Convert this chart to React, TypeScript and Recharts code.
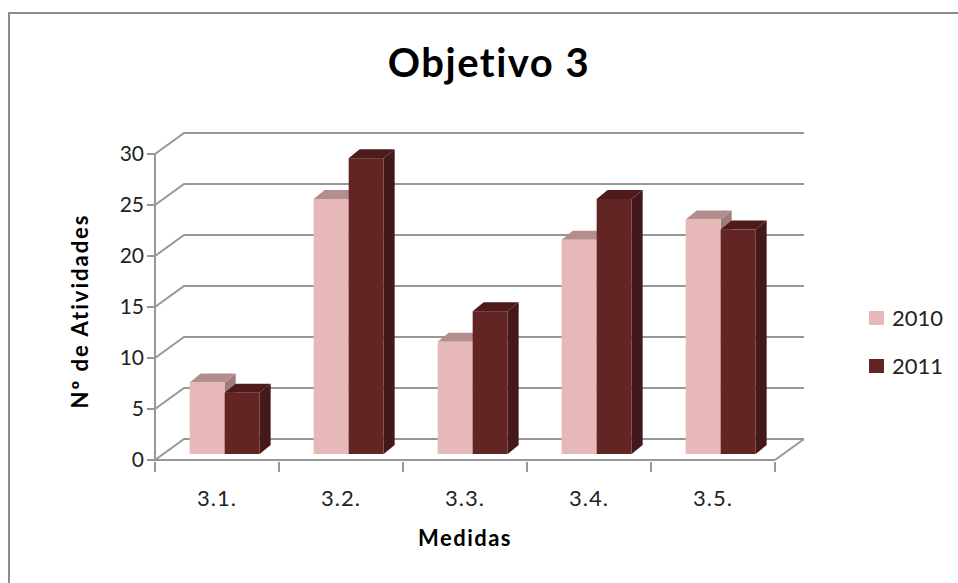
import React from 'react';
import { BarChart, Bar, XAxis, YAxis, CartesianGrid } from 'recharts';

// --- Data ---
const categories = ['3.1.', '3.2.', '3.3.', '3.4.', '3.5.'];
const values2010 = [7, 25, 11, 21, 23];
const values2011 = [6, 29, 14, 25, 22];
const yTicks = [0, 5, 10, 15, 20, 25, 30];
const seriesNames = ['2010', '2011'];

// front / top / side faces for each series
const FACES = [
  { front: '#E6B9B8', top: '#B38E8D', side: '#9E7C7B' },
  { front: '#632523', top: '#4E1B1A', side: '#43181A' },
];

const chartData = categories.map((name, i) => ({
  name,
  y2010: values2010[i],
  y2011: values2011[i],
}));

const FONT = 'Lato, "Open Sans", sans-serif';
const AXIS_COLOR = '#979797';

// fake 3D: back wall offset and bar position/depth inside the box
const WALL_X = 29;
const WALL_Y = 21;
const SHIFT_X = 8;
const SHIFT_Y = 6;
const DEPTH_X = 11;
const DEPTH_Y = 9;

const makeBarShape = (faces: { front: string; top: string; side: string }) => (props: any) => {
  const { x, y, width, height } = props;
  if (width == null || height == null) return <g />;
  const fx = x + SHIFT_X;
  const fy = y - SHIFT_Y;
  const top = `${fx},${fy} ${fx + DEPTH_X},${fy - DEPTH_Y} ${fx + width + DEPTH_X},${fy - DEPTH_Y} ${fx + width},${fy}`;
  const side = `${fx + width},${fy} ${fx + width + DEPTH_X},${fy - DEPTH_Y} ${fx + width + DEPTH_X},${fy + height - DEPTH_Y} ${fx + width},${fy + height}`;
  return (
    <g>
      <polygon points={side} fill={faces.side} />
      <polygon points={top} fill={faces.top} />
      <rect x={fx} y={fy} width={width} height={height} fill={faces.front} />
    </g>
  );
};

// gridline on the side wall + back wall, with the floor's right edge
const WallLine = (props: any) => {
  const { x1, x2, y1, index } = props;
  const isFloor = Math.abs(y1 - 460) < 1;
  return (
    <g key={`wall-${index}`} stroke={AXIS_COLOR} strokeWidth={2} fill="none">
      <polyline points={`${x1},${y1} ${x1 + WALL_X},${y1 - WALL_Y} ${x2 + WALL_X},${y1 - WALL_Y}`} />
      {isFloor && <line x1={x2} y1={y1} x2={x2 + WALL_X} y2={y1 - WALL_Y} />}
    </g>
  );
};

const CategoryTick = (props: any) => {
  const { x, y, payload, index } = props;
  const half = payload?.offset || 62;
  const last = index === categories.length - 1;
  return (
    <g>
      <line x1={x - half} y1={y} x2={x - half} y2={y + 10} stroke={AXIS_COLOR} strokeWidth={2} />
      {last && <line x1={x + half} y1={y} x2={x + half} y2={y + 10} stroke={AXIS_COLOR} strokeWidth={2} />}
      <text x={x} y={y + 44} textAnchor="middle" fontSize={22} letterSpacing={1} fill="#222" fontFamily={FONT}>
        {payload.value}
      </text>
    </g>
  );
};

export default function App() {
  return (
    <div style={{ position: 'absolute', left: 0, top: 0, width: 958, height: 583, overflow: 'hidden', background: '#fff' }}>
      <div style={{ position: 'absolute', left: 8, top: 12, width: 970, height: 600, border: '2px solid #8C8C8C' }} />
      <div style={{ position: 'absolute', left: 0, top: 38, width: 978, textAlign: 'center', fontFamily: FONT, fontWeight: 700, fontSize: 40, letterSpacing: 1.5, color: '#000' }}>
        Objetivo 3
      </div>
      <div style={{ position: 'absolute', left: 0, top: 0 }}>
        <BarChart
          width={958}
          height={583}
          data={chartData}
          margin={{ top: 154, right: 183, bottom: 83, left: 95 }}
          barGap={0}
          barCategoryGap="21.5%"
        >
          <CartesianGrid vertical={false} horizontal={WallLine} />
          <XAxis
            dataKey="name"
            height={40}
            axisLine={{ stroke: AXIS_COLOR, strokeWidth: 2 }}
            tickLine={false}
            tickSize={0}
            tick={CategoryTick}
            interval={0}
          />
          <YAxis
            width={60}
            domain={[0, 30]}
            ticks={yTicks}
            interval={0}
            axisLine={{ stroke: AXIS_COLOR, strokeWidth: 2 }}
            tickLine={{ stroke: AXIS_COLOR, strokeWidth: 2 }}
            tickSize={8}
            tickMargin={3}
            tick={{ fill: '#222', fontSize: 21, fontFamily: FONT }}
          />
          <Bar dataKey="y2010" name={seriesNames[0]} shape={makeBarShape(FACES[0])} isAnimationActive={false} />
          <Bar dataKey="y2011" name={seriesNames[1]} shape={makeBarShape(FACES[1])} isAnimationActive={false} />
        </BarChart>
      </div>
      <div
        style={{
          position: 'absolute', left: 79, top: 311, transform: 'translate(-50%, -50%) rotate(-90deg)',
          whiteSpace: 'nowrap', fontFamily: FONT, fontWeight: 700, fontSize: 22, letterSpacing: 2, color: '#000',
        }}
      >
        Nº de Atividades
      </div>
      <div style={{ position: 'absolute', left: 365, width: 200, top: 524, textAlign: 'center', fontFamily: FONT, fontWeight: 700, fontSize: 22, letterSpacing: 1.5, color: '#000' }}>
        Medidas
      </div>
      {seriesNames.map((s, i) => (
        <div key={s} style={{ position: 'absolute', left: 869, top: 304 + i * 48, display: 'flex', alignItems: 'center', fontFamily: FONT, fontSize: 22, color: '#222' }}>
          <span style={{ display: 'inline-block', width: 15, height: 14, background: FACES[i].front, marginRight: 8 }} />
          {s}
        </div>
      ))}
    </div>
  );
}
